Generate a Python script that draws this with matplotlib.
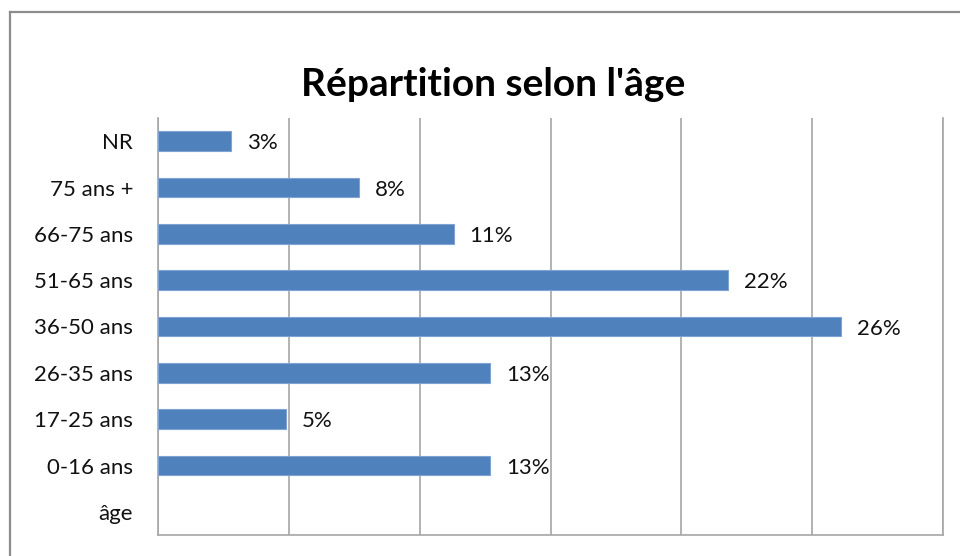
import matplotlib.pyplot as plt
from matplotlib.lines import Line2D

plt.rcParams['font.family'] = ['Lato', 'DejaVu Sans']

categories = ["âge", "0-16 ans", "17-25 ans", "26-35 ans", "36-50 ans",
              "51-65 ans", "66-75 ans", "75 ans +", "NR"]
# percent values (None = no bar)
values = [None, 12.7, 4.9, 12.7, 26.1, 21.8, 11.3, 7.7, 2.8]

fig = plt.figure(figsize=(9.6, 5.56), dpi=100)
ax = fig.add_axes([158 / 960, 1 - 535 / 556, (943 - 158) / 960, (535 - 118) / 556])

ys = [i for i, v in enumerate(values) if v is not None]
ws = [v for v in values if v is not None]
ax.barh(ys, ws, height=0.42, color="#4F81BD", edgecolor="#7FA3D3", linewidth=0.8, zorder=3)
for y, w in zip(ys, ws):
    ax.text(w + 0.6, y - 0.05, "%d%%" % round(w), va="center", ha="left", fontsize=16, color="#111111", zorder=4)

ax.set_xlim(0, 30)
ax.set_ylim(-0.5, len(categories) - 0.5)
ax.set_xticks([0, 5, 10, 15, 20, 25, 30])
ax.set_xticklabels([])
ax.tick_params(axis="x", length=0)
ax.set_yticks(range(len(categories)))
ax.set_yticklabels(categories, fontsize=16, color="#111111")
ax.tick_params(axis="y", length=0, pad=18)
ax.grid(axis="x", color="#A6A6A6", linewidth=1.2, zorder=0)

for s in ["left", "bottom", "right"]:
    ax.spines[s].set_color("#A6A6A6")
    ax.spines[s].set_linewidth(1.2)
ax.spines["top"].set_visible(False)

fig.text(0.514, 1 - 85 / 556, "Répartition selon l'âge", ha="center", va="center",
         fontsize=28, fontweight="bold", color="black")

# outer chart frame (only left and top are visible in the crop)
fig.add_artist(Line2D([10 / 960, 10 / 960], [0, 1 - 12 / 556], transform=fig.transFigure, color="#8C8C8C", linewidth=1.6))
fig.add_artist(Line2D([10 / 960, 1], [1 - 12 / 556, 1 - 12 / 556], transform=fig.transFigure, color="#8C8C8C", linewidth=1.6))

fig.savefig("out.png", dpi=100)
